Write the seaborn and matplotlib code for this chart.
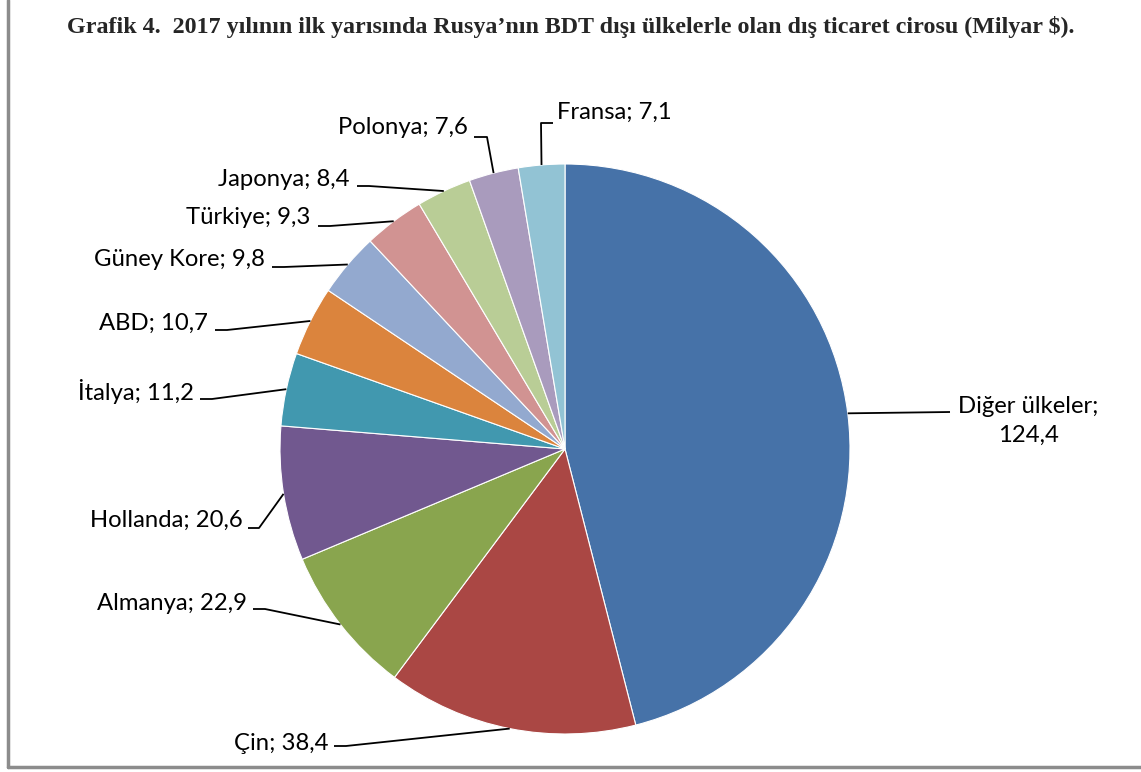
import numpy as np
import matplotlib
matplotlib.use("Agg")
import matplotlib.pyplot as plt
import seaborn as sns

countries = ["Diğer ülkeler", "Çin", "Almanya", "Hollanda", "İtalya", "ABD",
             "Güney Kore", "Türkiye", "Japonya", "Polonya", "Fransa"]
values = [124.4, 38.4, 22.9, 20.6, 11.2, 10.7, 9.8, 9.3, 8.4, 7.6, 7.1]
colors = ["#4672A8", "#AA4744", "#89A54E", "#71588F", "#4198AF", "#DB843D",
          "#93A9CF", "#D19392", "#B9CD96", "#A99BBD", "#92C3D4"]

title = "Grafik 4.  2017 yılının ilk yarısında Rusya’nın BDT dışı ülkelerle olan dış ticaret cirosu (Milyar $)."

W, H = 1141, 772

# label layout in image pixels: text x, text y, ha, hook start x, hook y, hook end x
label_layout = [
    (1028, 421, "center", 950, 412, 950),
    (328, 743, "right", 334, 746, 346),
    (247, 603, "right", 253, 609, 265),
    (243, 520, "right", 248, 528, 259),
    (194, 392, "right", 200, 399, 212),
    (208, 323, "right", 215, 330, 227),
    (265, 260, "right", 272, 267, 284),
    (310, 217, "right", 318, 226, 330),
    (350, 180, "right", 357, 186, 369),
    (468, 127, "right", 474, 137, 487),
    (557, 112, "left", 553, 123, 541),
]


def fy(py):
    return H - py


sns.set_theme(style="white")
plt.rcParams["font.family"] = ["Lato", "DejaVu Sans"]

fig = plt.figure(figsize=(W / 100, H / 100), dpi=100)
ax = fig.add_axes([0, 0, 1, 1])

wedges, _ = ax.pie(values, colors=colors, startangle=90, counterclock=False,
                   center=(565, fy(449)), radius=285,
                   wedgeprops=dict(edgecolor="white", linewidth=0.8))
ax.set_xlim(0, W)
ax.set_ylim(0, H)
ax.set_aspect("equal")
ax.axis("off")

for w, name, val, lay in zip(wedges, countries, values, label_layout):
    tx, ty, ha, hx0, hy, hx1 = lay
    mid = np.deg2rad((w.theta1 + w.theta2) / 2)
    cx, cy = w.center
    axp = cx + w.r * np.cos(mid)
    ayp = cy + w.r * np.sin(mid)
    ax.plot([hx0, hx1, axp], [fy(hy), fy(hy), ayp], color="black", lw=1.3,
            solid_capstyle="butt")
    val_s = f"{val}".replace(".", ",")
    if name == "Diğer ülkeler":
        txt = f"{name};\n{val_s}"
    else:
        txt = f"{name}; {val_s}"
    ax.text(tx, fy(ty), txt, ha=ha, va="center", fontsize=17.2, color="black",
            linespacing=1.5)

fig.text(0.5, fy(27) / H, title, ha="center", va="center", fontsize=17.3,
         fontweight="bold", family=["Liberation Serif", "DejaVu Serif"])

# frame of the chart area
ax.plot([8, 8], [fy(0), fy(767)], color="#8c8c8c", lw=2.5, clip_on=False)
ax.plot([8, W], [fy(767), fy(767)], color="#8c8c8c", lw=2.5, clip_on=False)

fig.savefig("out.png", dpi=100)
